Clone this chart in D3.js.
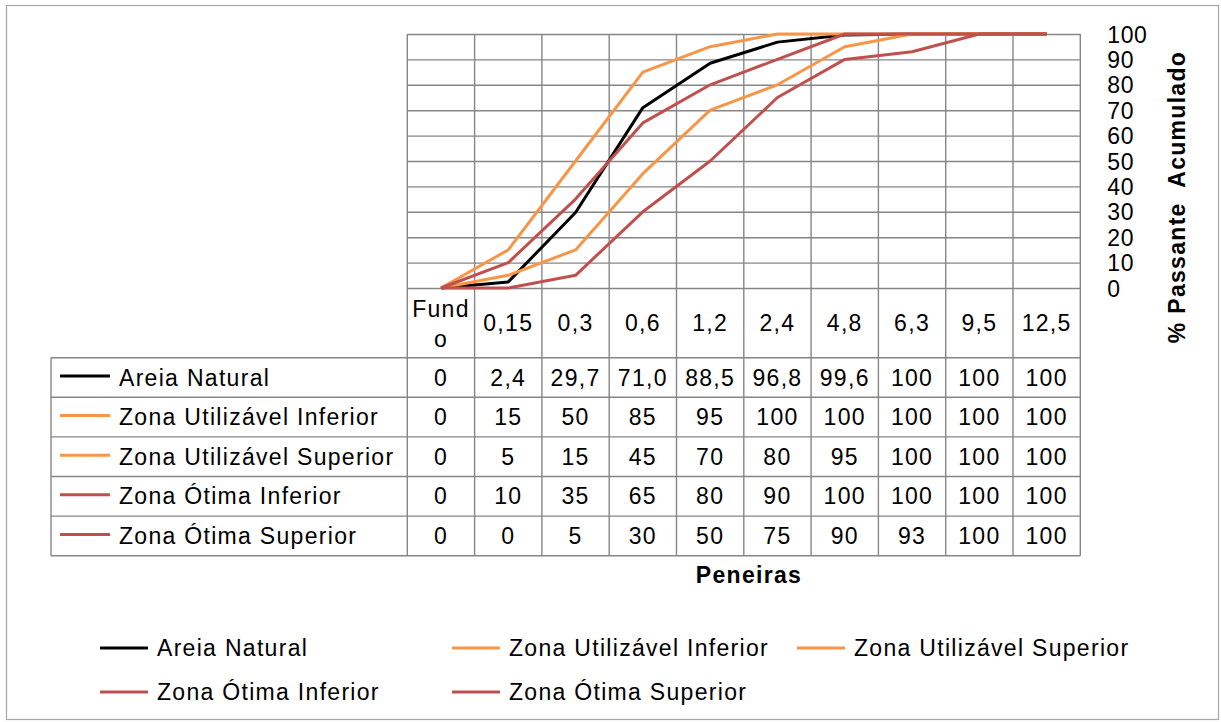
<!DOCTYPE html>
<html>
<head>
<meta charset="utf-8">
<script src="https://cdn.jsdelivr.net/npm/d3@7"></script>
<style>
  html, body { margin: 0; padding: 0; background: #ffffff; }
  svg { display: block; font-family: "Liberation Sans", Arial, sans-serif; }
</style>
</head>
<body>
<svg id="chart" width="1221" height="722"></svg>
<script>
// Peneiras (sieve openings, mm) and accumulated passing percentages
const categories = ["Fundo", "0,15", "0,3", "0,6", "1,2", "2,4", "4,8", "6,3", "9,5", "12,5"];
const seriesNames = ["Areia Natural", "Zona Utilizável Inferior", "Zona Utilizável Superior", "Zona Ótima Inferior", "Zona Ótima Superior"];
const areiaNatural      = [0, 2.4, 29.7, 71.0, 88.5, 96.8, 99.6, 100, 100, 100];
const zonaUtilInferior  = [0, 15, 50, 85, 95, 100, 100, 100, 100, 100];
const zonaUtilSuperior  = [0, 5, 15, 45, 70, 80, 95, 100, 100, 100];
const zonaOtimaInferior = [0, 10, 35, 65, 80, 90, 100, 100, 100, 100];
const zonaOtimaSuperior = [0, 0, 5, 30, 50, 75, 90, 93, 100, 100];
const seriesDecimals    = [1, 0, 0, 0, 0];
const seriesColors      = ["#000000", "#F79646", "#F79646", "#C0504D", "#C0504D"];
const yTicks = [0, 10, 20, 30, 40, 50, 60, 70, 80, 90, 100];
const xTitle = "Peneiras";
const yTitle = "% Passante  Acumulado";

const seriesValues = [areiaNatural, zonaUtilInferior, zonaUtilSuperior, zonaOtimaInferior, zonaOtimaSuperior];
const series = seriesNames.map((name, i) => ({
  name, color: seriesColors[i], decimals: seriesDecimals[i],
  values: seriesValues[i].map((v, j) => ({ cat: categories[j], v }))
}));

const svg = d3.select("#chart");
const FONT = 23, SPACING = 1.3;
const gridColor = "#868686";

// plot frame
const plot = { left: 407.3, right: 1080.3, top: 34, bottom: 288 };
const tableLeft = 51;
const headerBottom = 357.7;
const rowH = 39.6;

const x = d3.scaleBand().domain(categories).range([plot.left, plot.right]).padding(0);
const y = d3.scaleLinear().domain([0, 100]).range([plot.bottom, plot.top]);
const cx = c => x(c) + x.bandwidth() / 2;

// chart area border
svg.append("rect")
  .attr("x", 6.5).attr("y", 5.5).attr("width", 1212).attr("height", 714)
  .attr("fill", "#fff").attr("stroke", "#a6a6a6").attr("stroke-width", 1.2);

// horizontal gridlines
svg.append("g")
  .attr("transform", `translate(${plot.left},0)`)
  .call(d3.axisLeft(y).tickValues(yTicks).tickSize(-(plot.right - plot.left)).tickFormat(""))
  .call(g => g.select(".domain").remove())
  .call(g => g.selectAll("line").attr("stroke", gridColor).attr("stroke-width", 1.4));

// vertical gridlines at category boundaries, extending through the data table
const boundaries = categories.map(c => x(c)).concat([plot.right]);
const tableBottom = headerBottom + rowH * series.length;
svg.append("g").selectAll("line").data(boundaries).join("line")
  .attr("x1", d => d).attr("x2", d => d)
  .attr("y1", plot.top).attr("y2", tableBottom)
  .attr("stroke", gridColor).attr("stroke-width", 1.4);

// table horizontal rules and left edge
const rowLines = d3.range(series.length + 1).map(i => headerBottom + i * rowH);
svg.append("g").selectAll("line").data(rowLines).join("line")
  .attr("x1", tableLeft).attr("x2", plot.right)
  .attr("y1", d => d).attr("y2", d => d)
  .attr("stroke", gridColor).attr("stroke-width", 1.4);
svg.append("line")
  .attr("x1", tableLeft).attr("x2", tableLeft)
  .attr("y1", headerBottom).attr("y2", tableBottom)
  .attr("stroke", gridColor).attr("stroke-width", 1.4);

// y tick labels on the right
svg.append("g")
  .attr("transform", `translate(${plot.right},0)`)
  .call(d3.axisRight(y).tickValues(yTicks).tickSize(0).tickPadding(27))
  .call(g => g.select(".domain").remove())
  .call(g => g.selectAll("text")
    .attr("font-size", FONT).attr("font-family", "Liberation Sans, Arial, sans-serif")
    .attr("letter-spacing", 0.6).attr("fill", "#000").attr("dy", "0.35em"));

// y axis title
svg.append("text")
  .attr("transform", `translate(1185,197) rotate(-90)`)
  .attr("text-anchor", "middle")
  .attr("font-size", FONT).attr("font-weight", "bold").attr("letter-spacing", SPACING)
  .attr("xml:space", "preserve")
  .text(yTitle);

// series lines
const line = d3.line().x(d => cx(d.cat)).y(d => y(d.v));
svg.append("g").selectAll("path").data(series).join("path")
  .attr("d", d => line(d.values))
  .attr("fill", "none")
  .attr("stroke", d => d.color)
  .attr("stroke-width", 3)
  .attr("stroke-linejoin", "round");

// header row: category labels, wrapped when wider than the cell
const header = svg.append("g");
categories.forEach(c => {
  const t = header.append("text")
    .attr("x", cx(c)).attr("text-anchor", "middle")
    .attr("font-size", FONT).attr("letter-spacing", SPACING).text(c);
  const maxW = x.bandwidth() - 6;
  if (t.node().getComputedTextLength() > maxW) {
    let cut = c.length - 1;
    t.text(c.slice(0, cut));
    while (cut > 1 && t.node().getComputedTextLength() > maxW) { cut--; t.text(c.slice(0, cut)); }
    t.text(null);
    const midY = (plot.bottom + headerBottom) / 2;
    t.append("tspan").attr("x", cx(c)).attr("y", midY - 6).text(c.slice(0, cut));
    t.append("tspan").attr("x", cx(c)).attr("y", midY + 24).text(c.slice(cut));
  } else {
    t.attr("y", (plot.bottom + headerBottom) / 2).attr("dy", "0.35em");
  }
});

// table body: legend key + series name + values
const fmt = (v, dec) => (dec && v % 100 !== 0 ? v.toFixed(dec) : String(v)).replace(".", ",");
const rows = svg.append("g").selectAll("g").data(series).join("g")
  .attr("transform", (d, i) => `translate(0,${headerBottom + i * rowH + rowH / 2})`);
rows.append("line")
  .attr("x1", 60).attr("x2", 110).attr("y1", -1.5).attr("y2", -1.5)
  .attr("stroke", d => d.color).attr("stroke-width", 3);
rows.append("text")
  .attr("x", 119).attr("dy", "0.35em")
  .attr("font-size", FONT).attr("letter-spacing", SPACING)
  .text(d => d.name);
rows.selectAll("text.val").data(d => d.values.map(p => ({ ...p, dec: d.decimals })))
  .join("text").attr("class", "val")
  .attr("x", d => cx(d.cat)).attr("dy", "0.35em").attr("text-anchor", "middle")
  .attr("font-size", FONT).attr("letter-spacing", SPACING)
  .text(d => fmt(d.v, d.dec));

// x axis title
svg.append("text")
  .attr("x", 749).attr("y", 583).attr("text-anchor", "middle")
  .attr("font-size", FONT).attr("font-weight", "bold").attr("letter-spacing", SPACING)
  .text(xTitle);

// bottom legend: three columns, two rows
const legend = svg.append("g");
const perRow = 3, keyW = 48, keyGap = 9;
const legendColX = [100, 452, 797];
const legendRowY = [648, 692];
series.forEach((s, i) => {
  const g = legend.append("g")
    .attr("transform", `translate(${legendColX[i % perRow]},${legendRowY[Math.floor(i / perRow)]})`);
  g.append("line").attr("x1", 0).attr("x2", keyW).attr("stroke", s.color).attr("stroke-width", 3);
  g.append("text").attr("x", keyW + keyGap).attr("dy", "0.35em")
    .attr("font-size", FONT).attr("letter-spacing", SPACING).text(s.name);
});
</script>
</body>
</html>
